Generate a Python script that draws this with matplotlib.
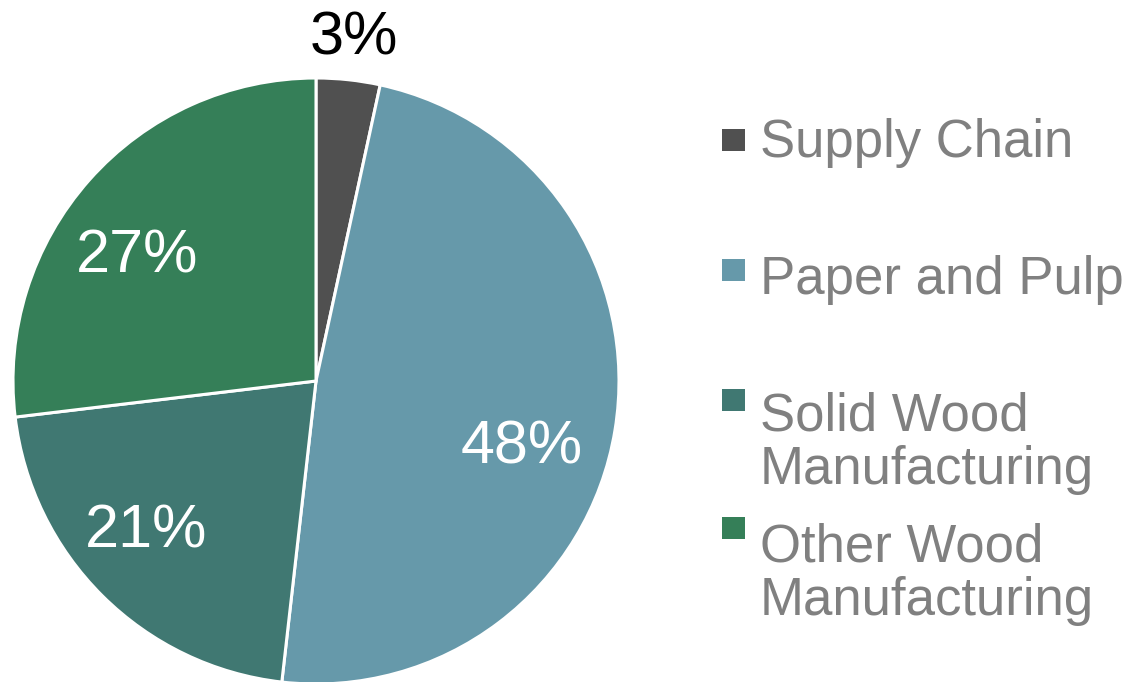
import matplotlib.pyplot as plt
from matplotlib.patches import Rectangle

plt.rcParams['font.family'] = ['Liberation Sans', 'DejaVu Sans']

labels = ["Supply Chain", "Paper and Pulp", "Solid Wood\nManufacturing", "Other Wood\nManufacturing"]
shares = [3.4, 48.4, 21.3, 26.9]
colors = ["#505050", "#6699aa", "#407872", "#357f58"]

W, H = 1133, 682
fig = plt.figure(figsize=(W / 100, H / 100), dpi=100)
# pie box in pixels: left 13, top 78, size 606
ax = fig.add_axes([13 / W, (H - 78 - 606) / H, 606 / W, 606 / H])
wedges, texts, autotexts = ax.pie(
    shares, colors=colors, startangle=90, counterclock=False,
    autopct="%.0f%%", pctdistance=0.73,
    wedgeprops=dict(edgecolor="white", linewidth=2.2),
    textprops=dict(fontsize=44, color="white"))
ax.set_xlim(-1, 1)
ax.set_ylim(-1, 1)
ax.set_aspect("equal")
ax.axis("off")

# small slice label sits outside, in black
autotexts[0].set_color("black")
autotexts[0].set_position((0.125, 1.13))
autotexts[2].set_position((-0.56, -0.5))
autotexts[3].set_position((-0.59, 0.41))
autotexts[1].set_position((0.68, -0.22))

# legend drawn by hand to match the spacing
marker_y = [140, 270, 400, 528]
text_y = [143, 280, 443, 574]
for lab, col, my, ty in zip(labels, colors, marker_y, text_y):
    fig.patches.append(Rectangle((722 / W, (H - my - 11) / H), 23 / W, 22 / H,
                                 facecolor=col, transform=fig.transFigure, figure=fig))
    fig.text(760 / W, (H - ty) / H, lab, fontsize=38, color="#808080",
             va="center", ha="left", linespacing=1.1)

fig.savefig("out.png", dpi=100)
